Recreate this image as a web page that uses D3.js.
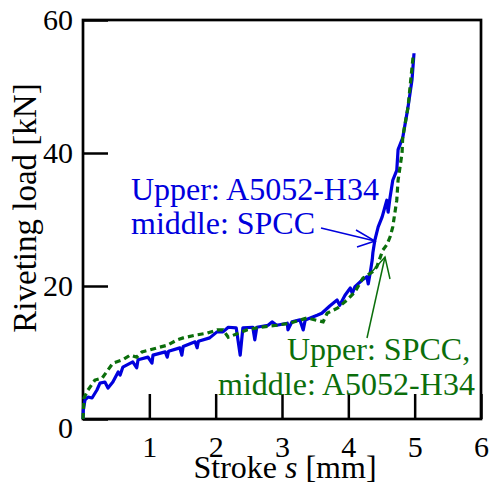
<!DOCTYPE html>
<html>
<head>
<meta charset="utf-8">
<script src="https://cdn.jsdelivr.net/npm/d3@7/dist/d3.min.js"></script>
<style>
  body { margin:0; background:#ffffff; }
</style>
</head>
<body>
<div id="chart_container"></div>
<script>
// Upper: A5052-H34, middle: SPCC (solid blue).
var stroke_a = [0, 0.005, 0.03, 0.075, 0.136, 0.21, 0.256, 0.33, 0.377, 0.45, 0.53, 0.56, 0.6, 0.75, 0.81, 0.83, 0.98, 1.04, 1.055,
  1.24, 1.27, 1.29, 1.46, 1.49, 1.51, 1.69, 1.72, 1.74, 1.91, 2.02, 2.11, 2.19, 2.31, 2.37, 2.41, 2.56, 2.59, 2.62, 2.79, 2.85,
  2.92, 3.08, 3.09, 3.15, 3.27, 3.32, 3.35, 3.53, 3.6, 3.72, 3.83, 3.87, 3.95, 4.03, 4.06, 4.1, 4.21, 4.28, 4.30, 4.33, 4.36,
  4.37, 4.40, 4.45, 4.51, 4.58, 4.60, 4.63, 4.67, 4.73, 4.75, 4.82, 4.90, 4.96, 4.99];
var load_a   = [0, 1.35, 2.86, 3.3, 3.16, 4.36, 5.4, 5.56, 4.66, 5.56, 7.07, 6.6, 7.8, 8.6, 7.7, 8.9, 9.3, 8.4, 9.6,
  10.1, 9.3, 10.2, 10.7, 9.6, 10.9, 11.6, 10.7, 11.7, 12.2, 13.1, 13.1, 13.8, 13.7, 9.6, 13.7, 13.8, 11.9, 13.8, 14.1, 14.6,
  14.1, 14.4, 13.4, 14.6, 14.9, 13.4, 14.9, 15.6, 15.9, 17.0, 17.9, 17.1, 18.6, 19.7, 18.9, 19.9, 20.9, 21.4, 20.3, 22.0, 23.9,
  25.0, 26.9, 28.9, 30.4, 32.9, 31.1, 33.4, 35.9, 37.4, 40.5, 42.3, 46.9, 51.0, 55.0];

// Upper: SPCC, middle: A5052-H34 (dashed green).
var stroke_b = [0, 0.015, 0.075, 0.18, 0.29, 0.45, 0.6, 0.71, 0.81, 0.89, 1.01, 1.12, 1.27, 1.42, 1.51, 1.69, 1.87, 2.02, 2.11,
  2.19, 2.47, 2.67, 2.92, 3.12, 3.38, 3.62, 3.68, 3.72, 3.84, 3.98, 4.10, 4.22, 4.36, 4.43, 4.52, 4.58, 4.63, 4.67, 4.73,
  4.75, 4.81, 4.82, 4.90, 4.975];
var load_b   = [0, 3.16, 4.36, 5.86, 6.17, 8.4, 8.9, 9.6, 9.3, 10.1, 10.4, 10.7, 11.1, 11.9, 12.2, 12.6, 12.9, 13.4, 13.4,
  12.3, 13.4, 13.8, 14.1, 14.4, 15.2, 14.6, 15.9, 16.1, 16.7, 17.9, 19.1, 21.2, 22.1, 22.9, 25.4, 26.2, 27.4, 28.9, 32.9,
  35.9, 40.0, 42.4, 46.9, 54.4];

var x_ticks = [1, 2, 3, 4, 5, 6];
var y_ticks = [0, 20, 40, 60];

var chart_dimension = { height:491,width:492 };
var plot_box        = { left:83,right:481,top:20,bottom:419 };
var color_a         = "#0000dd";
var color_b         = "#0b6e0b";
var font_serif      = "'Liberation Serif', 'DejaVu Serif', serif";

var scale_x = d3.scaleLinear().domain([0,6]).range([plot_box.left,plot_box.right]);
var scale_y = d3.scaleLinear().domain([0,60]).range([plot_box.bottom,plot_box.top]);

var chart_svg = d3.select("#chart_container").append("svg")
  .attr("height", chart_dimension.height)
  .attr("width", chart_dimension.width);

function zip_points (_xs, _ys) {
  var points = [];
  for (var i = 0; i < _xs.length; i ++) {
    points.push([_xs[i], _ys[i]]);
  }
  return points;
}

var line_gen = d3.line()
  .x(function (d) { return scale_x(d[0]); })
  .y(function (d) { return scale_y(d[1]); });

// Axes with inward ticks.
var axis_x = chart_svg.append("g")
  .attr("transform", "translate(0," + plot_box.bottom + ")")
  .call(d3.axisBottom(scale_x).tickValues(x_ticks).tickSize(-25).tickPadding(0).tickFormat(d3.format("d")));
var axis_y = chart_svg.append("g")
  .attr("transform", "translate(" + plot_box.left + ",0)")
  .call(d3.axisLeft(scale_y).tickValues(y_ticks).tickSize(-25).tickPadding(10).tickFormat(d3.format("d")));

[axis_x, axis_y].forEach(function (g) {
  g.attr("font-family", null).attr("font-size", null);
  g.select(".domain").remove();
  g.selectAll(".tick line").attr("stroke", "#000").attr("stroke-width", 2.5);
  g.selectAll(".tick text").attr("fill", "#000").style("font-size", "30px");
});
axis_x.selectAll(".tick text").attr("y", 38).attr("dy", 0);
axis_y.selectAll(".tick text").attr("dy", "0.32em");
axis_y.selectAll(".tick").filter(function (d) { return d === 0; }).select("text").attr("dy", "0.62em");

// Frame.
chart_svg.append("rect")
  .attr("x", plot_box.left)
  .attr("y", plot_box.top)
  .attr("width", plot_box.right - plot_box.left)
  .attr("height", plot_box.bottom - plot_box.top)
  .attr("fill", "none")
  .attr("stroke", "#000")
  .attr("stroke-width", 2.7);

// Curves.
chart_svg.append("path")
  .datum(zip_points(stroke_a, load_a))
  .attr("d", line_gen)
  .attr("fill", "none")
  .attr("stroke", color_a)
  .attr("stroke-width", 3.2)
  .attr("stroke-linejoin", "round");
chart_svg.append("path")
  .datum(zip_points(stroke_b, load_b))
  .attr("d", line_gen)
  .attr("fill", "none")
  .attr("stroke", color_b)
  .attr("stroke-width", 3.2)
  .attr("stroke-dasharray", "6,4");

// Axis titles.
var x_title = chart_svg.append("text")
  .attr("x", 285)
  .attr("y", 478)
  .attr("text-anchor", "middle")
  .style("font-size", "32px");
x_title.append("tspan").text("Stroke ");
x_title.append("tspan").style("font-style", "italic").text("s");
x_title.append("tspan").text(" [mm]");

chart_svg.append("text")
  .attr("transform", "translate(36,208) rotate(-90)")
  .attr("text-anchor", "middle")
  .style("font-size", "33px")
  .text("Riveting load [kN]");

// Annotations.
function draw_arrow (_from, _tip, _arm_a, _arm_b, _color) {
  var g = chart_svg.append("g").attr("stroke", _color).attr("stroke-width", 1.5).attr("fill", "none");
  g.append("line").attr("x1", _from[0]).attr("y1", _from[1]).attr("x2", _tip[0]).attr("y2", _tip[1]);
  g.append("polyline").attr("points", [_arm_a, _tip, _arm_b].map(function (p) { return p.join(","); }).join(" "));
}

chart_svg.append("text").attr("x", 131).attr("y", 200).attr("fill", color_a).style("font-size", "32px").text("Upper: A5052-H34");
chart_svg.append("text").attr("x", 131).attr("y", 234).attr("fill", color_a).style("font-size", "32px").text("middle: SPCC");
draw_arrow([321, 228], [375, 241], [356, 230], [357, 247], color_a);

chart_svg.append("text").attr("x", 287).attr("y", 360).attr("fill", color_b).style("font-size", "32px").text("Upper: SPCC,");
chart_svg.append("text").attr("x", 218).attr("y", 395).attr("fill", color_b).style("font-size", "32px").text("middle: A5052-H34");
draw_arrow([367, 338], [385, 257], [369, 275], [390, 279], color_b);

chart_svg.selectAll("text").style("font-family", font_serif);
</script>
</body>
</html>
